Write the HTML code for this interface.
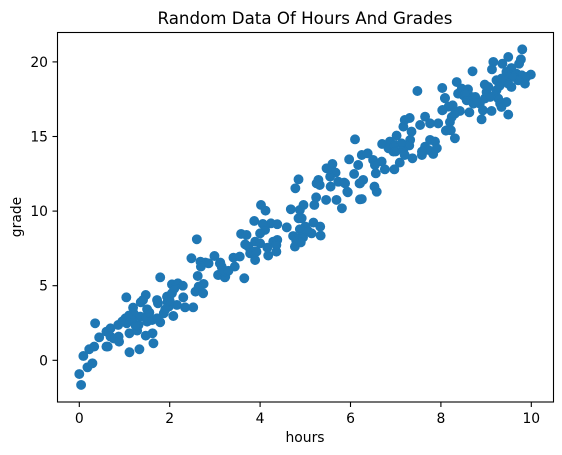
<!DOCTYPE html>
<html>
<head>
<meta charset="utf-8">
<title>Random Data Of Hours And Grades</title>
<style>
html,body{margin:0;padding:0;background:#fff;}
body{width:562px;height:455px;overflow:hidden;}
svg{display:block;}
text{font-family:"DejaVu Sans","Liberation Sans",sans-serif;fill:#000;}
</style>
</head>
<body>
<svg id="chart" width="562" height="455" viewBox="0 0 562 455" xmlns="http://www.w3.org/2000/svg">
  <rect x="0" y="0" width="562" height="455" fill="#fff"/>
  <g id="points"></g>
  <g id="ticks"></g>
  <rect x="57.5" y="32.5" width="496" height="369.5" fill="none" stroke="#000" stroke-width="1.1"/>
  <text x="305" y="24" font-size="16.67" text-anchor="middle">Random Data Of Hours And Grades</text>
  <text x="305" y="442" font-size="13.9" text-anchor="middle">hours</text>
  <text transform="translate(21,217) rotate(-90)" font-size="13.9" text-anchor="middle">grade</text>
</svg>
<script>
const hours = [
0.04,0,0.18,0.29,0.09,0.22,0.33,0.35,0.44,0.6,0.63,0.6,0.69,0.69,0.76,0.87,0.88,0.86,1.02,1.04,
1.11,1.33,1.11,1.28,1.47,1.62,1.64,1.05,1.17,1.19,1.2,1.35,1.31,1.5,1.61,1.79,1.72,1.87,1.72,1.74,
1.5,1.36,1.47,1.41,1.79,2.08,1.94,2.05,2.05,2.18,2.29,2.3,1.98,2.16,2.34,2.52,2.6,2.48,2.68,2.79,
2.86,2.99,3.12,3.16,2.69,2.62,2.75,2.64,2.57,2.74,3.08,3.23,
3.11,3.15,3.07,3.22,3.19,3.41,3.55,3.44,3.65,3.87,4.02,4.12,3.58,3.7,4.06,4.24,4.38,4.59,4.11,4.0,
3.67,3.74,3.89,4.0,3.85,3.89,3.78,3.92,4.16,4.18,4.36,4.38,4.29,4.36,4.77,4.73,4.82,4.95,5.14,5.34,
5.33,5.18,5.0,4.88,4.68,4.88,4.96,4.85,4.92,4.78,4.85,5.2,5.24,5.46,5.69,5.81,5.25,5.29,5.32,5.56,
5.73,5.86,5.94,5.88,5.47,5.6,5.59,5.67,5.55,5.97,6.17,6.08,6.21,6.21,
7.48,6.1,6.25,6.38,6.5,6.69,6.54,6.56,6.76,6.97,7.09,6.28,6.2,6.53,6.58,6.25,5.93,6.7,6.87,7.02,
6.84,6.95,6.98,7.17,7.13,7.2,7.32,7.35,7.17,7.2,7.31,7.54,7.65,7.76,7.94,8.11,7.37,7.58,7.65,7.76,
7.87,7.91,7.83,7.72,7.58,8.09,8.04,8.17,
9.8,9.77,9.73,9.49,9.36,9.16,9.13,9.56,9.45,9.67,8.7,9.99,9.89,9.86,9.79,9.53,9.23,9.34,9.42,9.56,
9.49,9.71,8.97,8.35,8.03,8.09,8.26,8.03,8.42,8.31,8.24,8.2,8.13,8.22,8.31,8.63,8.38,8.46,8.6,8.5,
8.57,8.68,8.76,8.72,8.86,8.97,9.01,9.05,9.23,9.2,9.27,8.93,9.12,8.9,9.31,9.45,9.34,9.49,9.09,
1.25,1.45,1.55,1.9,1.95,2.0,0.95,1.1,2.1,4.8,4.9,5.05,7.0,7.3,8.55,8.8,9.6,9.3,3.3
];
const grades = [
-1.65,-0.92,-0.47,-0.2,0.29,0.74,0.92,2.48,1.54,0.92,0.92,1.92,2.14,1.59,1.47,1.59,1.25,2.37,2.81,4.22,
0.54,0.74,1.81,1.99,1.65,1.81,1.14,2.48,2.7,3.53,3.15,2.93,2.37,2.59,2.7,2.55,2.81,3.15,4.04,3.82,
3.42,3.89,4.38,4.04,5.56,2.97,4.27,4.49,5.09,5.16,5.0,4.22,3.6,3.71,3.55,3.55,8.11,6.84,6.61,6.55,
6.5,6.99,6.55,6.17,6.28,5.65,5.12,4.94,4.6,4.49,5.72,5.61,
6.5,6.28,5.72,5.56,5.94,6.88,6.95,6.28,5.5,9.34,10.41,10.03,8.47,8.4,9.14,9.18,9.12,8.91,8.74,8.51,
7.77,7.62,7.95,7.84,7.28,6.72,7.17,7.28,7.55,7.02,7.28,8.07,7.95,7.73,7.62,8.33,8.18,8.24,8.51,8.36,
8.96,9.23,8.96,8.78,10.12,10.08,10.41,9.52,9.52,11.53,12.13,10.41,10.92,10.75,10.75,10.19,11.86,12.09,11.75,11.64,
11.97,11.91,11.26,11.86,12.87,13.16,12.71,12.58,12.31,13.47,13.09,12.49,11.86,10.79,
18.05,14.81,13.76,13.87,13.43,13.32,13.09,12.53,12.8,12.8,13.25,12.09,11.86,11.64,11.3,10.81,11.3,14.5,14.66,15.06,
14.21,13.99,14.43,14.1,14.54,13.76,14.77,15.33,15.66,16.11,16.24,15.77,16.33,15.88,15.88,15.39,13.54,13.76,14.32,14.77,
14.66,14.21,13.83,14.1,13.99,17.56,16.78,17.0,
20.84,20.17,19.88,20.33,19.88,20.0,19.5,19.59,19.33,19.21,19.37,19.15,18.99,18.54,19.1,19.1,18.77,18.88,18.77,18.32,
18.54,18.77,18.48,18.65,18.25,17.58,17.09,16.76,16.71,16.53,16.31,15.97,15.42,15.42,14.88,16.62,17.87,18.21,18.16,17.76,
17.43,17.65,17.65,17.2,17.2,17.54,17.98,18.32,18.1,17.76,17.54,16.76,16.71,16.15,17.2,17.31,16.98,16.47,17.65,
2.3,2.9,3.2,3.4,3.9,4.0,2.6,3.0,4.8,8.0,7.9,8.7,14.0,14.4,17.9,17.3,19.0,18.4,6.0
];
const xTickLabels = [0,2,4,6,8,10];
const yTickLabels = [0,5,10,15,20];

const NS = 'http://www.w3.org/2000/svg';
function xScale(v){ return 79.3 + 45.2 * v; }
function yScale(v){ return 360.3 - 14.92 * v; }

const pointsGroup = document.getElementById('points');
const n = Math.min(hours.length, grades.length);
for (let i = 0; i < n; i++) {
  const c = document.createElementNS(NS, 'circle');
  
  
  c.setAttribute('cx', xScale(hours[i]));
  c.setAttribute('cy', yScale(grades[i]));
  c.setAttribute('r', 4.3);
  c.setAttribute('fill', '#1f77b4');
  c.setAttribute('stroke', '#1f77b4');
  c.setAttribute('stroke-width', 1.3);
  pointsGroup.appendChild(c);
}

const ticksGroup = document.getElementById('ticks');
xTickLabels.forEach(function(t){
  const l = document.createElementNS(NS, 'line');
  
  
  l.setAttribute('x1', xScale(t)); l.setAttribute('x2', xScale(t));
  l.setAttribute('y1', 402); l.setAttribute('y2', 407);
  l.setAttribute('stroke', '#000'); l.setAttribute('stroke-width', 1.1);
  ticksGroup.appendChild(l);
  const tx = document.createElementNS(NS, 'text');
  
  
  tx.setAttribute('x', xScale(t));
  tx.setAttribute('y', 423);
  tx.setAttribute('font-size', 13.9);
  tx.setAttribute('text-anchor', 'middle');
  tx.textContent = t;
  ticksGroup.appendChild(tx);
});
yTickLabels.forEach(function(t){
  const l = document.createElementNS(NS, 'line');
  
  
  l.setAttribute('x1', 52.5); l.setAttribute('x2', 57.5);
  l.setAttribute('y1', yScale(t)); l.setAttribute('y2', yScale(t));
  l.setAttribute('stroke', '#000'); l.setAttribute('stroke-width', 1.1);
  ticksGroup.appendChild(l);
  const tx = document.createElementNS(NS, 'text');
  
  
  tx.setAttribute('x', 48);
  tx.setAttribute('y', yScale(t) + 5);
  tx.setAttribute('font-size', 13.9);
  tx.setAttribute('text-anchor', 'end');
  tx.textContent = t;
  ticksGroup.appendChild(tx);
});
</script>
</body>
</html>
